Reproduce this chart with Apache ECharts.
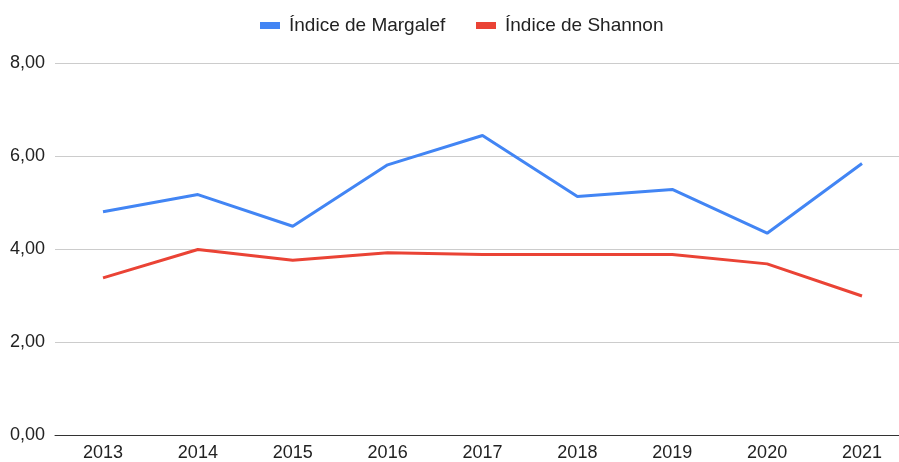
<!DOCTYPE html>
<html>
<head>
<meta charset="utf-8">
<script src="https://cdn.jsdelivr.net/npm/echarts@6/dist/echarts.min.js"></script>
<style>html,body{margin:0;padding:0;background:#fff}#c{width:899px;height:462px}</style>
</head>
<body>
<div id="c"></div>
<script>
const years = ['2013','2014','2015','2016','2017','2018','2019','2020','2021'];
const margalef = [4.80, 5.17, 4.49, 5.81, 6.44, 5.13, 5.28, 4.34, 5.84];
const shannon = [3.38, 3.99, 3.76, 3.92, 3.88, 3.88, 3.88, 3.68, 2.99];
const seriesNames = ['Índice de Margalef', 'Índice de Shannon'];
const yTicks = [0, 2, 4, 6, 8];

const font = '"Liberation Sans", Arial, sans-serif';
const chart = echarts.init(document.getElementById('c'));
const fmt = v => v.toFixed(2).replace('.', ',');
const legendBase = {
  top: 11, itemWidth: 20, itemHeight: 7, icon: 'rect',
  textStyle: { fontSize: 19, color: '#222', fontFamily: font, padding: [0, 0, 0, 4] }
};
chart.setOption({
  animation: false,
  textStyle: { fontFamily: font },
  legend: [
    Object.assign({}, legendBase, { left: 255, data: [seriesNames[0]] }),
    Object.assign({}, legendBase, { left: 471, data: [seriesNames[1]] })
  ],
  grid: [
    { left: 55, right: 0, top: 63, bottom: 27, containLabel: false },
    { left: 103, right: 37, top: 63, bottom: 27, containLabel: false }
  ],
  xAxis: [
    { type: 'category', gridIndex: 0, data: years, show: true,
      axisLine: { lineStyle: { color: '#333', width: 1 } },
      axisTick: { show: false }, axisLabel: { show: false }, splitLine: { show: false } },
    { type: 'category', gridIndex: 1, data: years, boundaryGap: false,
      axisLine: { show: false }, axisTick: { show: false },
      axisLabel: { fontSize: 18, color: '#222', margin: 9, fontFamily: font } }
  ],
  yAxis: [
    { type: 'value', gridIndex: 0, min: yTicks[0], max: yTicks[yTicks.length-1], interval: 2,
      axisLine: { show: false }, axisTick: { show: false },
      axisLabel: { fontSize: 18, color: '#222', margin: 10, formatter: fmt, fontFamily: font },
      splitLine: { lineStyle: { color: '#cccccc', width: 1 } } },
    { type: 'value', gridIndex: 1, min: 0, max: 8, interval: 2, show: false,
      splitLine: { show: false } }
  ],
  series: [
    { name: seriesNames[0], type: 'line', xAxisIndex: 1, yAxisIndex: 1, data: margalef,
      showSymbol: false, symbol: 'none', color: '#4285f4', lineStyle: { width: 3, color: '#4285f4' } },
    { name: seriesNames[1], type: 'line', xAxisIndex: 1, yAxisIndex: 1, data: shannon,
      showSymbol: false, symbol: 'none', color: '#ea4335', lineStyle: { width: 3, color: '#ea4335' } }
  ]
});
</script>
</body>
</html>
